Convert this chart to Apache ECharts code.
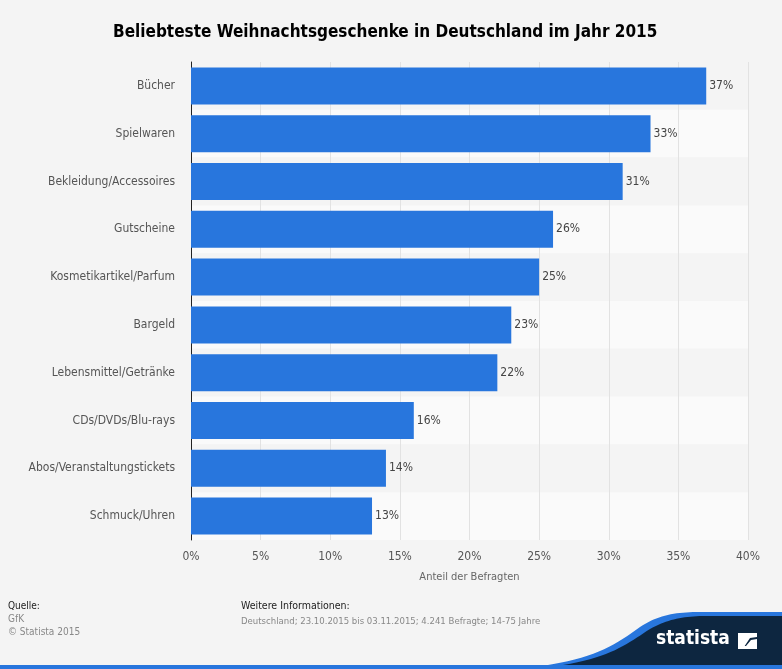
<!DOCTYPE html>
<html><head><meta charset="utf-8">
<script src="https://cdn.jsdelivr.net/npm/echarts@6/dist/echarts.min.js"></script>
<style>html,body{margin:0;padding:0;background:#f4f4f4;}#c{width:782px;height:669px;}</style>
</head><body><div id="c"></div>
<script>
const categories = ["Bücher","Spielwaren","Bekleidung/Accessoires","Gutscheine","Kosmetikartikel/Parfum","Bargeld","Lebensmittel/Getränke","CDs/DVDs/Blu-rays","Abos/Veranstaltungstickets","Schmuck/Uhren"];
const values = [37,33,31,26,25,23,22,16,14,13];
const xTicks = [0,5,10,15,20,25,30,35,40];
const FONT = '"DejaVu Sans Condensed","DejaVu Sans",sans-serif';

function bez(p0,p1,p2,p3,n){
  const out=[];
  for(let i=0;i<=n;i++){const t=i/n,u=1-t;
    out.push([u*u*u*p0[0]+3*u*u*t*p1[0]+3*u*t*t*p2[0]+t*t*t*p3[0],
              u*u*u*p0[1]+3*u*u*t*p1[1]+3*u*t*t*p2[1]+t*t*t*p3[1]]);}
  return out;
}
function swoosh(a,b,c,d,e,f,g,yTop,yBot){
  return bez(a,b,c,d,20).concat(bez(d,e,f,g,20).slice(1)).concat([[782,yTop],[782,yBot],[a[0],yBot]]);
}
const bluePts = swoosh([515,669],[585,663],[612,648],[640,627],[658,615],[676,612],[700,612],612,669);
const navyPts = swoosh([555,666],[610,659],[628,643],[650,629],[668,619],[684,616],[706,616],616,666);

const chart = echarts.init(document.getElementById('c'));
chart.setOption({
  backgroundColor:'#f4f4f4',
  animation:false,
  title:{text:'Beliebteste Weihnachtsgeschenke in Deutschland im Jahr 2015',left:108,top:19,
    textStyle:{fontFamily:FONT,fontSize:17,fontWeight:'bold',color:'#000'}},
  grid:{left:191,right:34,top:62,bottom:129},
  xAxis:{type:'value',min:xTicks[0],max:xTicks[xTicks.length-1],interval:5,
    name:'Anteil der Befragten',nameLocation:'middle',nameGap:32,
    nameTextStyle:{fontFamily:FONT,fontSize:11,color:'#666'},
    axisLine:{show:false},axisTick:{show:false},
    axisLabel:{formatter:'{value}%',fontFamily:FONT,fontSize:12,color:'#555',margin:11},
    splitLine:{show:true,lineStyle:{color:'#e2e2e2',width:1}}},
  yAxis:{type:'category',data:categories,inverse:true,
    axisLine:{show:true,lineStyle:{color:'#222',width:1}},axisTick:{show:false},
    axisLabel:{fontFamily:FONT,fontSize:12,color:'#555',margin:16},
    splitArea:{show:true,areaStyle:{color:['#f4f4f4','#fafafa']}}},
  series:[{type:'bar',data:values,barWidth:37,
    itemStyle:{color:'#2876dd'},
    label:{show:true,position:'right',distance:3,formatter:'{c}%',fontFamily:FONT,fontSize:12,color:'#444'}}],
  graphic:[
    {type:'text',x:8,y:601,style:{text:'Quelle:',font:'10px '+FONT,fill:'#222'}},
    {type:'text',x:8,y:614,style:{text:'GfK',font:'10px '+FONT,fill:'#888'}},
    {type:'text',x:8,y:627,style:{text:'© Statista 2015',font:'10px '+FONT,fill:'#888'}},
    {type:'text',x:241,y:601,style:{text:'Weitere Informationen:',font:'10.5px '+FONT,fill:'#222'}},
    {type:'text',x:241,y:617,style:{text:'Deutschland; 23.10.2015 bis 03.11.2015; 4.241 Befragte; 14-75 Jahre',font:'9.5px '+FONT,fill:'#888'}},
    {type:'polygon',shape:{points:bluePts},style:{fill:'#2876dd'}},
    {type:'polygon',shape:{points:navyPts},style:{fill:'#0d2640'}},
    {type:'rect',shape:{x:0,y:665,width:782,height:4},style:{fill:'#2876dd'}},
    {type:'text',x:656,y:630,style:{text:'statista',font:'bold 19px '+FONT,fill:'#fff'}},
    {type:'polygon',shape:{points:[[738,633],[757,633],[757,637],[750,638],[744,647],[738,648]]},style:{fill:'#fff'}},
    {type:'polygon',shape:{points:[[757,639],[757,649],[738,649],[738,646],[746,646],[751,640]]},style:{fill:'#fff'}}
  ]
});
</script></body></html>
